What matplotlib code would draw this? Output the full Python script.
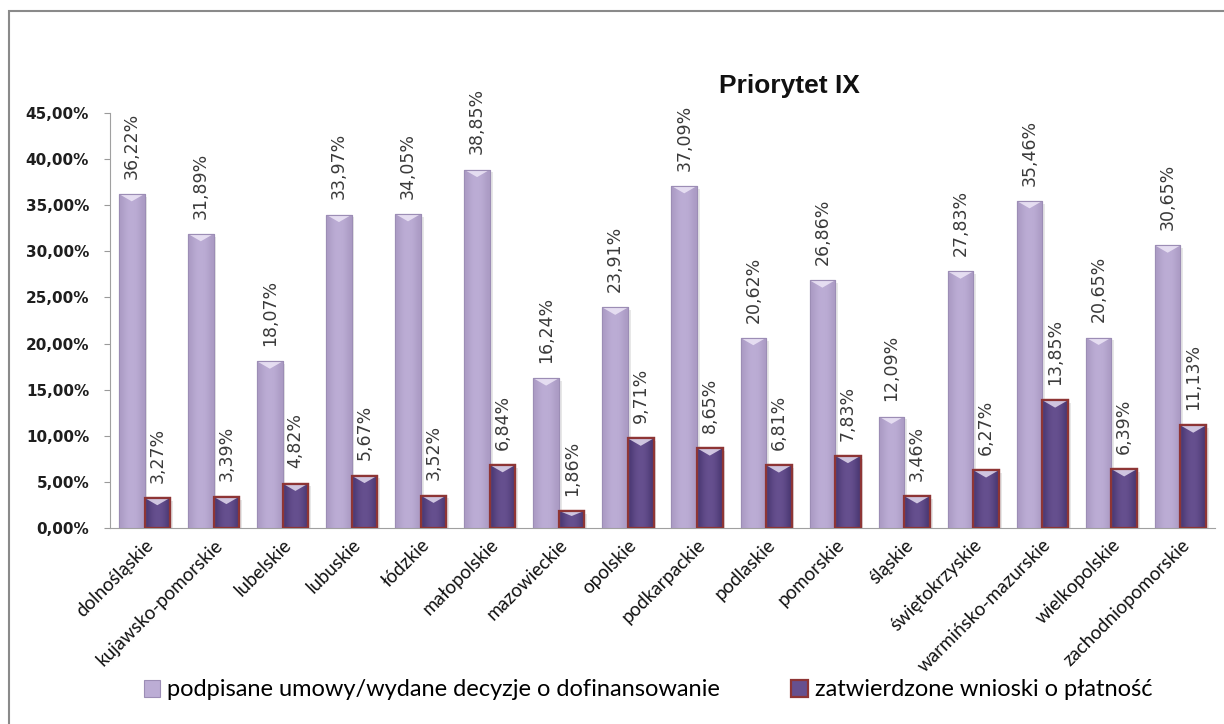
import numpy as np
import matplotlib
matplotlib.use("Agg")
import matplotlib.pyplot as plt
from matplotlib.patches import Rectangle, Polygon, Patch

regions = ["dolnośląskie", "kujawsko-pomorskie", "lubelskie", "lubuskie", "łódzkie",
           "małopolskie", "mazowieckie", "opolskie", "podkarpackie", "podlaskie",
           "pomorskie", "śląskie", "świętokrzyskie", "warmińsko-mazurskie",
           "wielkopolskie", "zachodniopomorskie"]
umowy = [36.22, 31.89, 18.07, 33.97, 34.05, 38.85, 16.24, 23.91,
         37.09, 20.62, 26.86, 12.09, 27.83, 35.46, 20.65, 30.65]
wnioski = [3.27, 3.39, 4.82, 5.67, 3.52, 6.84, 1.86, 9.71,
           8.65, 6.81, 7.83, 3.46, 6.27, 13.85, 6.39, 11.13]
yticks = np.arange(0, 46, 5)

series_names = ["podpisane umowy/wydane decyzje o dofinansowanie",
                "zatwierdzone wnioski o płatność"]

light_side, light_mid, light_edge = "#ab9bc4", "#bcadd5", "#9c8db5"
dark_side, dark_mid, dark_edge = "#4b3873", "#66508f", "#8e3535"

fig = plt.figure(figsize=(12.24, 7.24), dpi=100)
ax = fig.add_axes([110 / 1224, 1 - 528 / 724, 1105 / 1224, 415 / 724])

# outer chart frame
fig.patches.append(Rectangle((9 / 1224, -0.2), 1.2, 1.2 - 11 / 724,
                             transform=fig.transFigure, fill=False,
                             edgecolor="#8a8a8a", linewidth=1.5))

x = np.arange(len(regions))
w = 0.37


def shaded_bars(xpos, heights, side, mid, edge, lw):
    bars = ax.bar(xpos, heights, width=w, color=mid, edgecolor=edge,
                  linewidth=lw, zorder=3)
    grad = np.array([[0.0, 0.7, 1.0, 1.0, 0.7, 0.0]])
    cmap = matplotlib.colors.LinearSegmentedColormap.from_list("g", [side, mid])
    for b in bars:
        x0, y0 = b.get_x(), b.get_y()
        bw, bh = b.get_width(), b.get_height()
        # soft shadow to the right
        ax.add_patch(Rectangle((x0 + bw, y0), 0.04, bh - 0.3, color="#d8d8d8",
                               alpha=0.6, zorder=2, linewidth=0))
        im = ax.imshow(grad, cmap=cmap, aspect="auto", interpolation="bicubic",
                       extent=(x0, x0 + bw, y0, y0 + bh), zorder=3.5)
        im.set_clip_path(b)
        # bevelled top highlight
        d = min(0.8, bh * 0.3)
        ax.add_patch(Polygon([(x0, bh), (x0 + bw, bh), (x0 + bw * 0.5, bh - d)],
                             closed=True, color="#f4eefc", alpha=0.75,
                             linewidth=0, zorder=3.6))
        ax.add_patch(Rectangle((x0, y0), bw, bh, fill=False, edgecolor=edge,
                               linewidth=lw, zorder=3.7))
    return bars


b1 = shaded_bars(x - w / 2, umowy, light_side, light_mid, light_edge, 0.8)
b2 = shaded_bars(x + w / 2, wnioski, dark_side, dark_mid, dark_edge, 1.6)

label_font = ["Liberation Sans Narrow", "DejaVu Sans Condensed", "DejaVu Sans"]
for bars, vals in ((b1, umowy), (b2, wnioski)):
    for b, v in zip(bars, vals):
        ax.annotate(f"{v:.2f}%".replace(".", ","),
                    (b.get_x() + b.get_width() / 2, v),
                    xytext=(0, 11), textcoords="offset points",
                    rotation=90, ha="center", va="bottom",
                    fontsize=12.5, color="#3a3a3a", family=label_font,
                    annotation_clip=False, zorder=5)

ax.set_xlim(-0.5, len(regions) - 0.5)
ax.set_ylim(0, 45)
ax.set_yticks(yticks)
ax.set_yticklabels([f"{t:.2f}%".replace(".", ",") for t in yticks],
                   fontsize=11, fontweight="bold", color="#1e1e1e",
                   family="DejaVu Sans")
ax.set_xticks(x)
ax.set_xticklabels(regions, rotation=45, ha="right", rotation_mode="anchor",
                   fontsize=13.5, family=["Lato", "DejaVu Sans"], color="#111111")
ax.tick_params(axis="x", length=0, pad=6)
ax.tick_params(axis="y", length=4, color="#9a9a9a", pad=11)
for side in ("top", "right"):
    ax.spines[side].set_visible(False)
ax.spines["left"].set_color("#a0a0a0")
ax.spines["bottom"].set_color("#a0a0a0")
ax.set_facecolor("none")

fig.text(789 / 1224, 1 - 86 / 724, "Priorytet IX", ha="center", va="center",
         fontsize=19, fontweight="bold",
         family=["Liberation Sans", "DejaVu Sans"], color="#111111")

handles = [Patch(facecolor=light_mid, edgecolor=light_edge, linewidth=0.8),
           Patch(facecolor=dark_mid, edgecolor=dark_edge, linewidth=1.6)]
fig.legend(handles, series_names, loc="center", ncol=2,
           bbox_to_anchor=(648 / 1224, 1 - 690 / 724), frameon=False,
           prop={"family": ["Lato", "DejaVu Sans"], "size": 17},
           handlelength=0.7, handleheight=0.7, handletextpad=0.3,
           columnspacing=3.0)

fig.savefig("out.png", dpi=100)
